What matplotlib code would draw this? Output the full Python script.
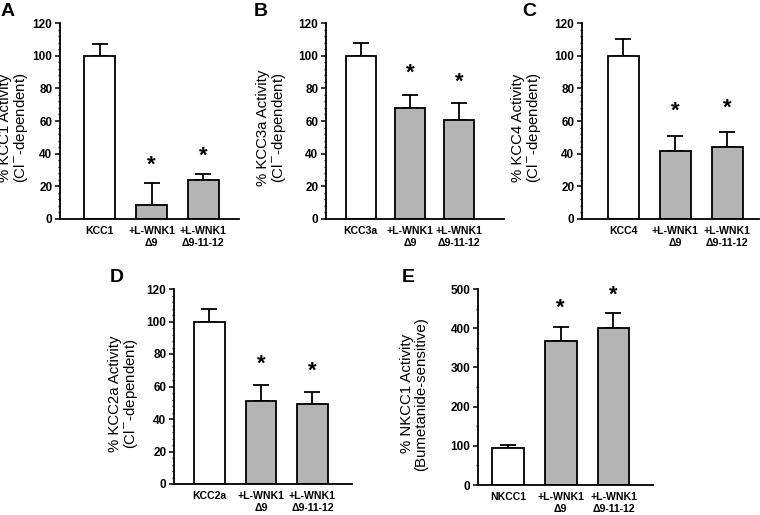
import numpy as np
import matplotlib.pyplot as plt
from matplotlib.ticker import MultipleLocator

plt.rcParams['font.family'] = ['Liberation Sans', 'DejaVu Sans']

# values (mean and upper error)
labels_A = ['KCC1', '+L-WNK1\n\u03949', '+L-WNK1\n\u03949-11-12']
mean_A = [100, 8.5, 24]
err_A = [7, 13.5, 3.5]

labels_B = ['KCC3a', '+L-WNK1\n\u03949', '+L-WNK1\n\u03949-11-12']
mean_B = [100, 68, 60.5]
err_B = [8, 8, 10.5]

labels_C = ['KCC4', '+L-WNK1\n\u03949', '+L-WNK1\n\u03949-11-12']
mean_C = [100, 41.5, 44]
err_C = [10.5, 9.5, 9]

labels_D = ['KCC2a', '+L-WNK1\n\u03949', '+L-WNK1\n\u03949-11-12']
mean_D = [100, 51, 49]
err_D = [7.5, 10, 7.5]

labels_E = ['NKCC1', '+L-WNK1\n\u03949', '+L-WNK1\n\u03949-11-12']
mean_E = [95, 368, 400]
err_E = [8, 35, 38]

W, H = 760, 515
fig = plt.figure(figsize=(W / 100, H / 100), dpi=100)


def make_axes(left, right, top, bottom):
    ax = fig.add_axes([left / W, 1 - bottom / H, (right - left) / W, (bottom - top) / H])
    ax.px = (left, right)
    return ax


def panel(ax, labels, mean, err, ylabel, label_right, ymax, major, minor, xlim, star_off):
    x = np.arange(len(mean))
    colors = ['white', '#b4b4b4', '#b4b4b4']
    ax.bar(x, mean, width=0.6, color=colors, edgecolor='black', linewidth=1.3, zorder=2)
    ax.errorbar(x, mean, yerr=[np.zeros(len(err)), err], fmt='none', ecolor='black',
                elinewidth=1.3, capsize=5.5, capthick=1.3, zorder=1)
    for i in range(1, len(mean)):
        ax.text(x[i], mean[i] + err[i] + star_off, '*', ha='center', va='center',
                fontsize=16, fontweight='bold')
    ax.set_xlim(*xlim)
    ax.set_ylim(0, ymax)
    ax.yaxis.set_major_locator(MultipleLocator(major))
    ax.yaxis.set_minor_locator(MultipleLocator(minor))
    ax.set_xticks(x)
    ax.set_xticklabels(labels, fontsize=7.6, fontweight='bold', linespacing=1.3)
    ax.tick_params(axis='x', length=0, pad=5)
    ax.tick_params(axis='y', which='major', length=3.5, width=1.1, labelsize=8.5, pad=2)
    ax.tick_params(axis='y', which='minor', length=1.8, width=0.9)
    for lab in ax.get_yticklabels():
        lab.set_fontweight('bold')
    ax.set_ylabel(ylabel, fontsize=10.8, linespacing=1.0)
    left, right = ax.px
    ax.yaxis.set_label_coords((label_right - left) / (right - left), 0.465)
    for s in ['top', 'right']:
        ax.spines[s].set_visible(False)
    for s in ['left', 'bottom']:
        ax.spines[s].set_linewidth(1.3)


axA = make_axes(60, 239, 23, 219)
panel(axA, labels_A, mean_A, err_A, '% KCC1 Activity\n(Cl$^{-}$-dependent)', 30,
      120, 20, 4, (-0.77, 2.69), 11)

axB = make_axes(326, 504, 23, 219)
panel(axB, labels_B, mean_B, err_B, '% KCC3a Activity\n(Cl$^{-}$-dependent)', 288,
      120, 20, 4, (-0.71, 2.92), 13)

axC = make_axes(582, 759, 23, 219)
panel(axC, labels_C, mean_C, err_C, '% KCC4 Activity\n(Cl$^{-}$-dependent)', 543,
      120, 20, 4, (-0.79, 2.61), 15)

axD = make_axes(174, 352, 289, 484)
panel(axD, labels_D, mean_D, err_D, '% KCC2a Activity\n(Cl$^{-}$-dependent)', 140,
      120, 20, 4, (-0.69, 2.77), 13)

axE = make_axes(478, 653, 289, 485)
panel(axE, labels_E, mean_E, err_E, '% NKCC1 Activity\n(Bumetanide-sensitive)', 428,
      500, 100, 50, (-0.57, 2.75), 47)

# panel letters
for letter, px, py in [('A', 1, 12), ('B', 254, 12), ('C', 522, 12),
                       ('D', 110, 277), ('E', 402, 278)]:
    fig.text(px / W, 1 - py / H, letter, fontsize=14, fontweight='bold',
             ha='left', va='center')

fig.savefig('out.png', dpi=100)
